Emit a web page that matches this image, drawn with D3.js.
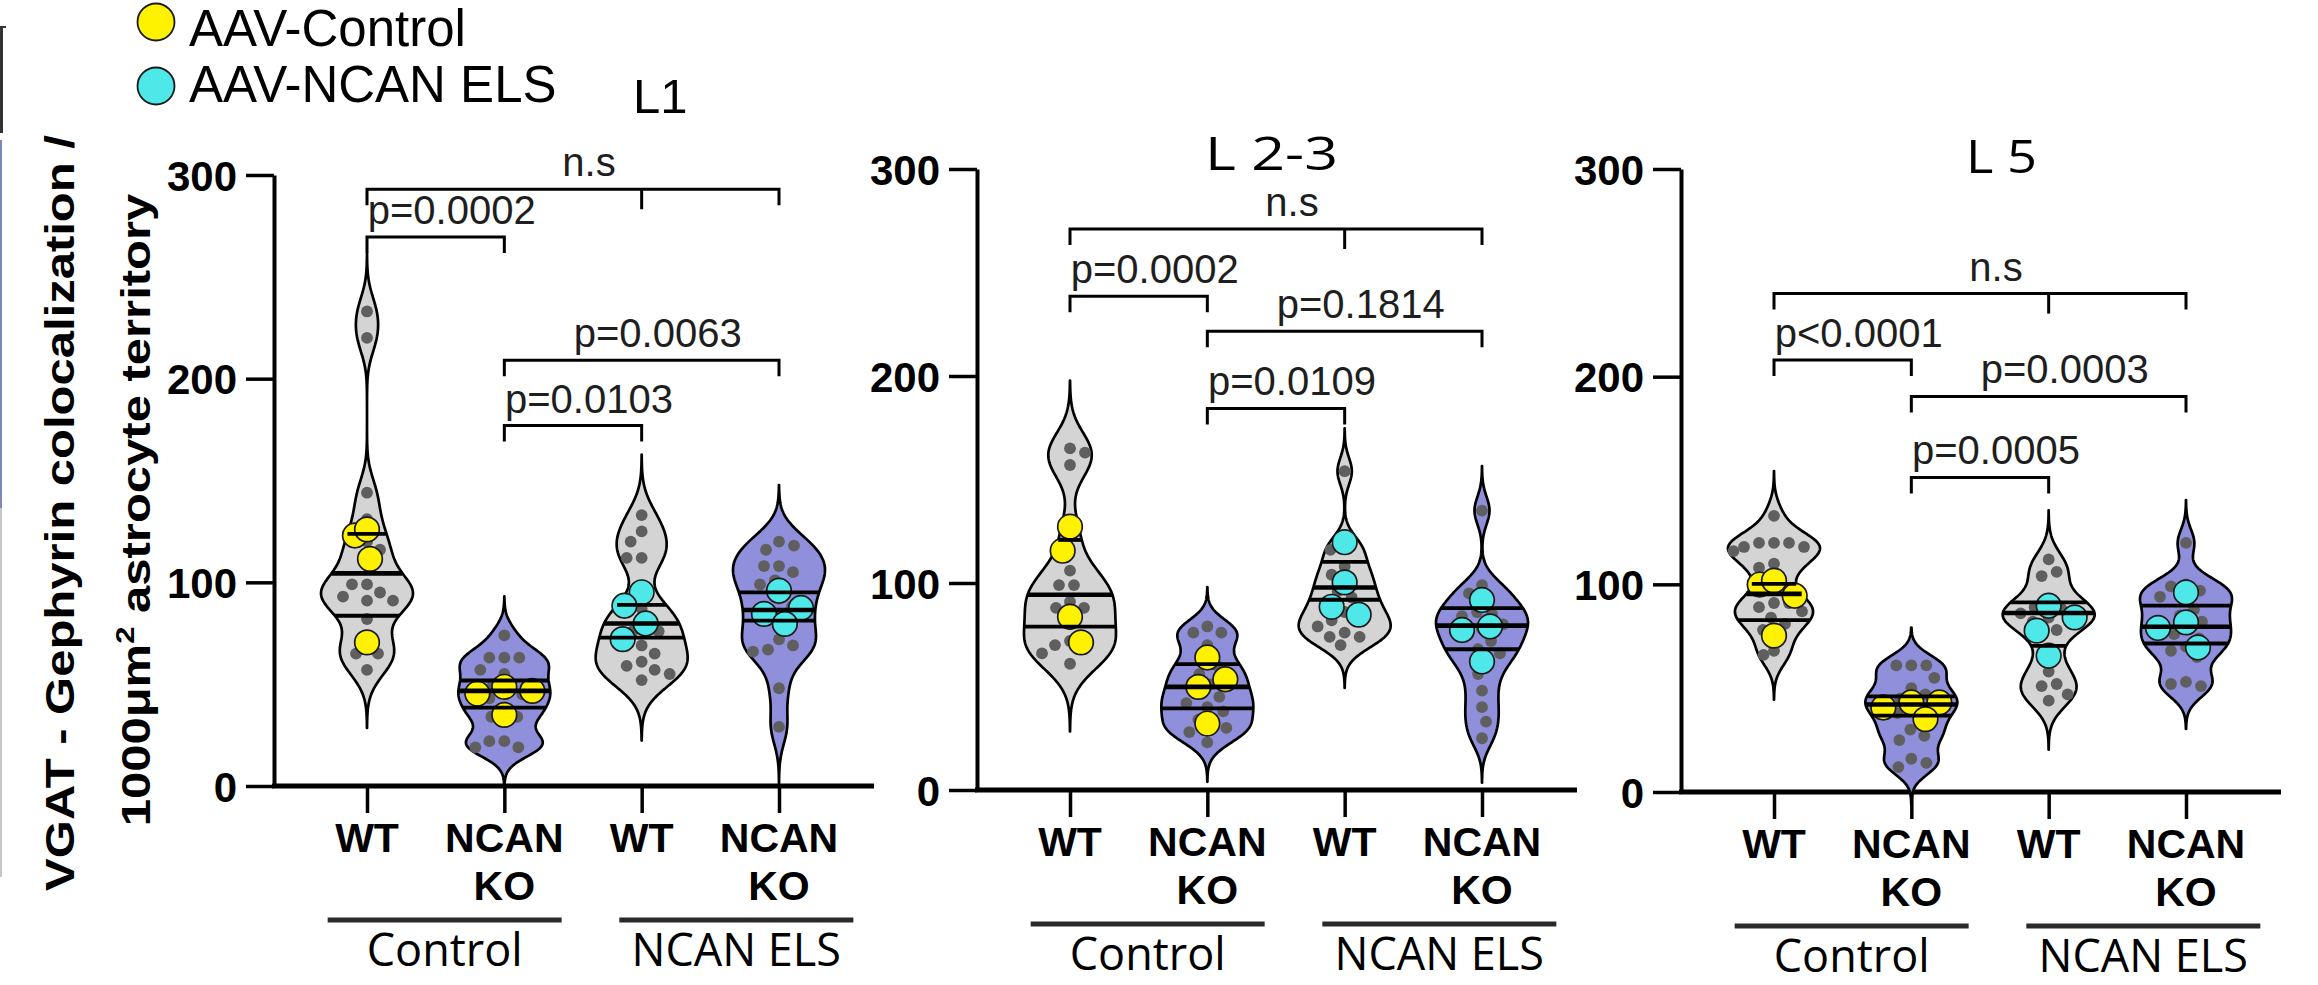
<!DOCTYPE html>
<html><head><meta charset="utf-8">
<script src="https://cdn.jsdelivr.net/npm/d3@7"></script>
<style>body{margin:0;background:#fff;} svg{display:block;}</style>
</head><body>
<svg id="chart" width="2318" height="985"></svg>
<script>
// ---------------- DATA ----------------
const categories = ["Control|WT", "Control|NCAN KO", "NCAN ELS|WT", "NCAN ELS|NCAN KO"];
const categoryLabels = [["WT"], ["NCAN", "KO"], ["WT"], ["NCAN", "KO"]];
const treatmentGroups = ["Control", "NCAN ELS"];
const panelTitles = ["L1", "L 2-3", "L 5"];
const yTicks = [0, 100, 200, 300];
const legendLabels = ["AAV-Control", "AAV-NCAN ELS"];
const yLabelLine1 = "VGAT - Gephyrin colocalization /";

// individual cells (grey dots)
const cellsL1 = [
  [233, 220, 144, 131, 120, 116, 109, 99, 99, 95, 93, 91, 91, 82, 70, 65, 65, 57],
  [74, 63, 63, 63, 57, 55, 50, 47, 45, 43, 38, 34, 34, 22, 22, 19, 19],
  [133, 125, 120, 112, 112, 87, 86, 80, 76, 76, 69, 65, 61, 59, 57, 55, 52],
  [120, 118, 116, 108, 108, 105, 101, 99, 92, 88, 84, 80, 72, 69, 67, 66, 48, 29]
];
const cellsL23 = [
  [165, 163, 157, 124, 106, 99, 99, 91, 88, 88, 80, 72, 70, 70, 66, 61],
  [79, 76, 76, 70, 63, 60, 56, 54, 51, 47, 45, 42, 40, 38, 34, 30, 30, 28, 23],
  [154, 118, 116, 108, 104, 101, 96, 93, 90, 86, 83, 82, 79, 76, 74, 74, 70],
  [135, 99, 95, 92, 86, 85, 84, 80, 78, 75, 72, 68, 66, 62, 56, 48, 40, 33, 25]
];
const cellsL5 = [
  [133, 120, 120, 120, 118, 118, 116, 110, 108, 101, 91, 91, 89, 87, 84, 81, 78, 68, 66],
  [61, 61, 61, 55, 50, 47, 45, 43, 41, 38, 35, 30, 27, 25, 16, 14, 12],
  [112, 106, 104, 92, 89, 88, 86, 84, 83, 82, 78, 66, 58, 52, 51, 47, 44],
  [120, 100, 99, 97, 94, 93, 88, 85, 82, 79, 76, 74, 70, 68, 65, 53, 52, 51]
];
// animal means (coloured dots)
const animalsL1 = [[123, 126, 111.5, 70.5], [46.7, 48.7, 45.4, 34.9], [95.1, 88.5, 79.8, 72.1], [95.9, 87.4, 84.5, 79.6]];
const animalsL23 = [[127.2, 115.6, 83.7, 71.3], [64, 53.5, 49.8, 32.1], [119.7, 100.3, 84.7, 88.5], [91.8, 77.3, 79, 62.1]];
const animalsL5 = [[99.9, 101.8, 94.5, 75.3], [40.7, 43.1, 43.1, 35.1], [89.7, 84.1, 77.7, 65.6], [96.1, 81.7, 79, 69.6]];
// quartiles [Q1, median, Q3]
const quartL1 = [[83.6, 104.4, 123.8], [38.5, 46.7, 51.8], [72.9, 79.8, 88.9], [81.2, 86.4, 95.1]];
const quartL23 = [[78.9, 94.3, 120.8], [39.4, 49.8, 60.8], [91.9, 97.8, 110.2], [68, 79.4, 87.9]];
const quartL5 = [[82.8, 95.4, 100.2], [36.8, 42.1, 46], [70.4, 86.2, 91.3], [71.5, 79.6, 89.7]];
// comparisons: from, to, middle leg, bracket level (data units), label
const statsL1 = [
  {a: 0, b: 3, mid: 2, level: 293, label: "n.s"},
  {a: 0, b: 1, level: 269.5, label: "p=0.0002"},
  {a: 1, b: 3, level: 209, label: "p=0.0063"},
  {a: 1, b: 2, level: 177, label: "p=0.0103"}
];
const statsL23 = [
  {a: 0, b: 3, mid: 2, level: 271, label: "n.s"},
  {a: 0, b: 1, level: 238.5, label: "p=0.0002"},
  {a: 1, b: 3, level: 221.6, label: "p=0.1814"},
  {a: 1, b: 2, level: 184.3, label: "p=0.0109"}
];
const statsL5 = [
  {a: 0, b: 3, mid: 2, level: 240, label: "n.s"},
  {a: 0, b: 1, level: 208, label: "p<0.0001"},
  {a: 1, b: 3, level: 190.5, label: "p=0.0003"},
  {a: 1, b: 2, level: 151.5, label: "p=0.0005"}
];

// ---------------- LAYOUT / STYLE ----------------
const layout = [
  {x0: 274, y0: 786, yTop: 175, titleX: 633, titleY: 113, titleFont: "Liberation Sans, Arial, sans-serif", titleSize: 49, titleLen: null},
  {x0: 977, y0: 790, yTop: 169, titleX: 1205, titleY: 170, titleFont: "Open Sans, sans-serif", titleSize: 46, titleLen: 133},
  {x0: 1681, y0: 792, yTop: 169, titleX: 1966, titleY: 173, titleFont: "Open Sans, sans-serif", titleSize: 45, titleLen: 71}
];
const violinFill = ["#d4d4d4", "#8f8fdb", "#d4d4d4", "#8f8fdb"];
const animalFill = ["#fff200", "#fff200", "#4fe8e8", "#4fe8e8"];
const legendFill = ["#fff200", "#4fe8e8"];
const ARIAL = "Liberation Sans, Arial, sans-serif";
const MAXW = 46;
const CELL_R = 5.9, ANIMAL_R = 12.3;

const panels = [
  {cells: cellsL1, animals: animalsL1, quart: quartL1, stats: statsL1},
  {cells: cellsL23, animals: animalsL23, quart: quartL23, stats: statsL23},
  {cells: cellsL5, animals: animalsL5, quart: quartL5, stats: statsL5}
];

const svg = d3.select("#chart");

// left-edge remnants of the original figure
svg.append("line").attr("x1", 1.5).attr("x2", 1.5).attr("y1", 27).attr("y2", 133).attr("stroke", "#333").attr("stroke-width", 3);
svg.append("line").attr("x1", 0).attr("x2", 6).attr("y1", 27).attr("y2", 27).attr("stroke", "#333").attr("stroke-width", 2);
svg.append("line").attr("x1", 1).attr("x2", 1).attr("y1", 140).attr("y2", 508).attr("stroke", "#7d88b8").attr("stroke-width", 2);
svg.append("line").attr("x1", 1).attr("x2", 1).attr("y1", 508).attr("y2", 877).attr("stroke", "#c6c6c6").attr("stroke-width", 2);

// ---------------- helpers ----------------
function gauss(u) { return Math.exp(-0.5 * u * u) / Math.sqrt(2 * Math.PI); }
function silverman(v) {
  const s = v.slice().sort(d3.ascending);
  const iqr = d3.quantile(s, 0.75) - d3.quantile(s, 0.25);
  const sd = d3.deviation(s);
  return 0.9 * Math.min(sd, iqr / 1.34) * Math.pow(s.length, -0.2);
}
function makeKde(vals) {
  const h = 0.68 * silverman(vals);
  const f = v => d3.mean(vals, x => gauss((v - x) / h)) / h;
  const lo = d3.min(vals) - 3.2 * h, hi = d3.max(vals) + 3.2 * h;
  const grid = d3.range(0, 241).map(i => lo + (hi - lo) * i / 240);
  const dens = grid.map(v => [v, f(v)]);
  const fmax = d3.max(dens, d => d[1]);
  return {dens, half: v => (v < lo || v > hi) ? 0 : MAXW * f(v) / fmax, fmax};
}
function swarm(vals, r, gap, yScale, half, inset) {
  const pts = [];
  const out = new Array(vals.length);
  const order = d3.range(vals.length).sort((a, b) => vals[b] - vals[a]);
  order.forEach((i, n) => {
    const py = yScale(vals[i]);
    const lim = Math.max(0, half(vals[i]) - inset);
    const dmin = 2 * r + gap;
    const sgn = n % 2 ? 1 : -1;
    let best = null;
    for (let d = 0; d <= lim + 0.01 && best === null; d += 1) {
      for (const s of [sgn, -sgn]) {
        const cx = s * d;
        if (pts.every(p => (p.x - cx) ** 2 + (p.y - py) ** 2 >= dmin * dmin)) { best = cx; break; }
      }
    }
    if (best === null) {
      let bx = 0, bd = -1;
      for (let d = -lim; d <= lim; d += 1) {
        const md = d3.min(pts, p => Math.hypot(p.x - d, p.y - py));
        if (md > bd) { bd = md; bx = d; }
      }
      best = bx;
    }
    pts.push({x: best, y: py});
    out[i] = best;
  });
  return out;
}

// ---------------- panels ----------------
panels.forEach((P, pi) => {
  const L = layout[pi];
  const g = svg.append("g");
  const y = d3.scaleLinear().domain([0, 300]).range([L.y0, L.yTop]);
  const x = d3.scalePoint().domain(categories).range([L.x0 + 93, L.x0 + 505]);

  // title
  const tt = g.append("text").attr("x", L.titleX).attr("y", L.titleY)
    .attr("font-family", L.titleFont).attr("font-size", L.titleSize).attr("fill", "#000")
    .text(panelTitles[pi]);
  if (L.titleLen) tt.attr("textLength", L.titleLen).attr("lengthAdjust", "spacingAndGlyphs");

  // y axis
  const ya = g.append("g").attr("transform", `translate(${L.x0},0)`)
    .call(d3.axisLeft(y).tickValues(yTicks).tickSize(28).tickPadding(9).tickSizeOuter(0));
  ya.select(".domain").attr("stroke", "#000").attr("stroke-width", 4);
  ya.selectAll(".tick line").attr("stroke", "#000").attr("stroke-width", 3.5);
  ya.selectAll(".tick text").attr("font-family", ARIAL).attr("font-weight", "bold")
    .attr("font-size", 42).attr("fill", "#000").attr("dy", "0.36em");

  // x axis
  g.append("line").attr("x1", L.x0 - 2).attr("x2", L.x0 + 600).attr("y1", L.y0).attr("y2", L.y0)
    .attr("stroke", "#000").attr("stroke-width", 5);
  const xa = g.append("g").attr("transform", `translate(0,${L.y0})`)
    .call(d3.axisBottom(x).tickSize(27).tickSizeOuter(0).tickFormat(""));
  xa.select(".domain").remove();
  xa.selectAll(".tick line").attr("stroke", "#000").attr("stroke-width", 3.5);
  categories.forEach((c, i) => {
    const t = g.append("text").attr("text-anchor", "middle").attr("font-family", ARIAL)
      .attr("font-weight", "bold").attr("font-size", 41).attr("fill", "#000");
    categoryLabels[i].forEach((line, j) => {
      t.append("tspan").attr("x", x(c)).attr("y", L.y0 + 66 + j * 48).text(line);
    });
  });

  // treatment group underlines + labels
  const grpShift = [9, 26];
  treatmentGroups.forEach((tg, k) => {
    const cs = categories.filter(c => c.split("|")[0] === tg);
    const cx = (x(cs[0]) + x(cs[cs.length - 1])) / 2 + grpShift[k];
    g.append("line").attr("x1", cx - 117).attr("x2", cx + 117)
      .attr("y1", L.y0 + 134).attr("y2", L.y0 + 134)
      .attr("stroke", "#2a2a2a").attr("stroke-width", 5);
    g.append("text").attr("x", cx).attr("y", L.y0 + 180).attr("text-anchor", "middle")
      .attr("font-family", "Open Sans, sans-serif").attr("font-size", 45).attr("fill", "#000")
      .text(tg);
  });

  // violins
  categories.forEach((c, i) => {
    const vals = P.cells[i];
    const K = makeKde(vals);
    const cx = x(c);
    const area = d3.area()
      .x0(d => cx - MAXW * d[1] / K.fmax)
      .x1(d => cx + MAXW * d[1] / K.fmax)
      .y(d => y(d[0]))
      .curve(d3.curveLinear);
    g.append("path").datum(K.dens).attr("d", area)
      .attr("fill", violinFill[i]).attr("stroke", "#000").attr("stroke-width", 2.7)
      .attr("stroke-linejoin", "round");

    // grey cell dots
    const offs = swarm(vals, CELL_R, 3, y, K.half, 5);
    g.append("g").selectAll("circle").data(vals).join("circle")
      .attr("cx", (d, j) => cx + offs[j]).attr("cy", d => y(d)).attr("r", CELL_R)
      .attr("fill", "#5f5f5f");

    // animal dots
    const av = P.animals[i];
    const aoffs = swarm(av, ANIMAL_R, 3, y, K.half, 8);
    g.append("g").selectAll("circle").data(av).join("circle")
      .attr("cx", (d, j) => cx + aoffs[j]).attr("cy", d => y(d)).attr("r", ANIMAL_R)
      .attr("fill", animalFill[i]).attr("stroke", "#1a1a1a").attr("stroke-width", 1.7);

    // quartile lines
    P.quart[i].forEach((q, k) => {
      const w = K.half(q);
      g.append("line").attr("x1", cx - w).attr("x2", cx + w).attr("y1", y(q)).attr("y2", y(q))
        .attr("stroke", "#000").attr("stroke-width", k === 1 ? 4.6 : 3.8);
    });
  });

  // significance brackets
  P.stats.forEach(s => {
    const yy = y(s.level);
    const xa0 = x(categories[s.a]), xb0 = x(categories[s.b]);
    const bg = g.append("g").attr("stroke", "#000").attr("stroke-width", 3).attr("fill", "none");
    bg.append("path").attr("d", `M${xa0},${yy + 16}V${yy}H${xb0}V${yy + 16}`);
    if (s.mid !== undefined) {
      const xm = x(categories[s.mid]);
      bg.append("line").attr("x1", xm).attr("x2", xm).attr("y1", yy).attr("y2", yy + 20);
    }
    g.append("text").attr("x", (xa0 + xb0) / 2 + 16).attr("y", yy - 13)
      .attr("text-anchor", "middle").attr("font-family", ARIAL).attr("font-size", 40)
      .attr("fill", "#1e1e1e").text(s.label);
  });
});

// ---------------- legend ----------------
const legY = [22, 86], legBase = [46, 102];
legendLabels.forEach((lab, i) => {
  svg.append("circle").attr("cx", 156).attr("cy", legY[i]).attr("r", 18.5)
    .attr("fill", legendFill[i]).attr("stroke", "#1a1a1a").attr("stroke-width", 1.8);
  svg.append("text").attr("x", 189).attr("y", legBase[i]).attr("font-family", ARIAL)
    .attr("font-size", 51).attr("fill", "#000").text(lab);
});

// ---------------- y axis title ----------------
const yl = svg.append("g").attr("font-family", ARIAL).attr("font-weight", "bold")
  .attr("font-size", 49).attr("fill", "#000").attr("text-anchor", "middle");
yl.append("text").attr("transform", "translate(74,513) scale(0.82,1) rotate(-90)").text(yLabelLine1);
const l2 = yl.append("text").attr("transform", "translate(150,510) scale(0.82,1) rotate(-90)");
l2.append("tspan").text("1000μm");
l2.append("tspan").attr("font-size", 31).attr("dy", -19).text("2");
l2.append("tspan").attr("dy", 19).text(" astrocyte territory");
</script>
</body></html>
